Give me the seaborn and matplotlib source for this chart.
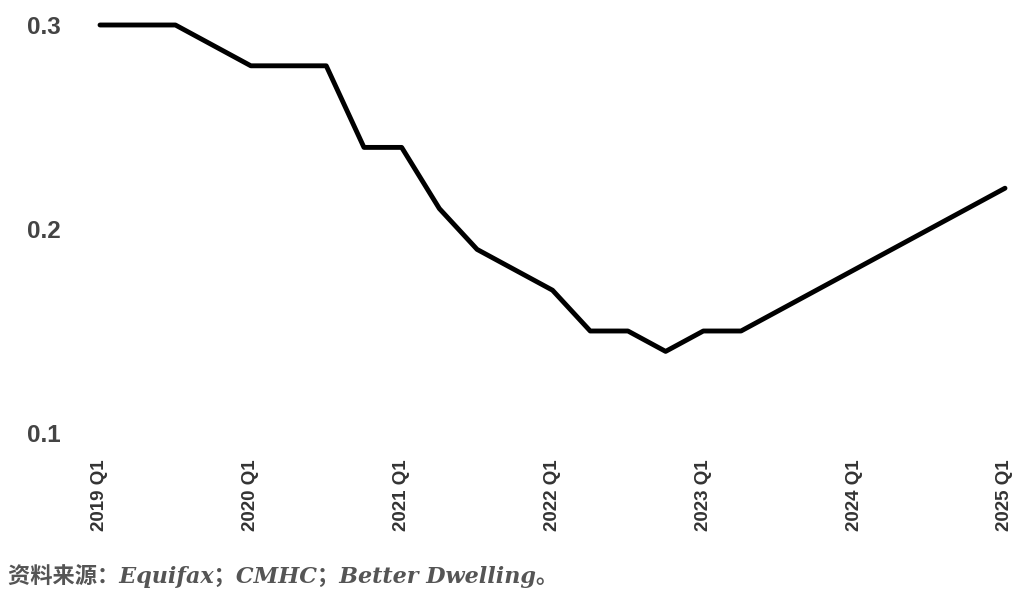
import pandas as pd
import numpy as np
import matplotlib.pyplot as plt
import seaborn as sns

# quarterly series, 2019 Q1 .. 2025 Q1
quarters = [f"{y} Q{q}" for y in range(2019, 2026) for q in range(1, 5)][:25]
values = [0.30, 0.30, 0.30, 0.29,
          0.28, 0.28, 0.28, 0.24,
          0.24, 0.21, 0.19, 0.18,
          0.17, 0.15, 0.15, 0.14,
          0.15, 0.15, 0.16, 0.17,
          0.18, 0.19, 0.20, 0.21,
          0.22]
y_ticks = [0.1, 0.2, 0.3]
source = "资料来源：Equifax；CMHC；Better Dwelling。"

df = pd.DataFrame({"quarter": quarters, "value": values})
df["pos"] = np.arange(len(df))

sns.set_style("white")
fig = plt.figure(figsize=(10.24, 5.92), dpi=100)
ax = fig.add_axes([100 / 1024, 1 - 433 / 592, 905 / 1024, 408 / 592])

sns.lineplot(data=df, x="pos", y="value", color="black", linewidth=3.5, ax=ax)
for ln in ax.lines:
    ln.set_clip_on(False)

ax.set_xlim(0, len(df) - 1)
ax.set_ylim(0.1, 0.3)
xt = df["pos"][::4]
ax.set_xticks(xt)
ax.set_xticklabels(df["quarter"][::4], rotation=90, fontsize=13.5, fontweight="bold",
                   color="#333333", family="Liberation Sans", va="top")
ax.set_yticks(y_ticks)
ax.set_yticklabels([f"{v:.1f}" for v in y_ticks], fontsize=17.5, fontweight="bold",
                   color="#444444", family="Liberation Sans")
ax.tick_params(axis="both", length=0)
ax.tick_params(axis="x", pad=19)
ax.tick_params(axis="y", pad=28)
ax.set_xlabel("")
ax.set_ylabel("")
sns.despine(ax=ax, left=True, bottom=True)

fig.text(8 / 1024, 1 - 576 / 592, source, fontsize=16, style="italic", fontweight="semibold",
         color="#555555", family=["DejaVu Serif", "Noto Sans CJK SC"], va="center", ha="left")

fig.savefig("out.png", dpi=100)
